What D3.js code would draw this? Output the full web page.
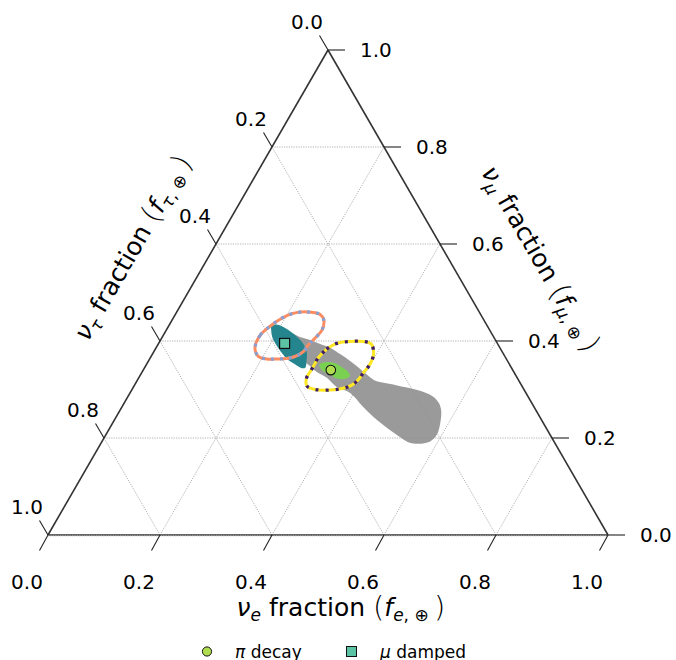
<!DOCTYPE html>
<html><head><meta charset="utf-8">
<script src="https://cdn.jsdelivr.net/npm/d3@7"></script>
<style>body{margin:0;background:#fff} svg{display:block} text{font-family:"DejaVu Sans",sans-serif;fill:#000}</style>
</head><body><div id="chart"></div>
<script>
// ---- data (ternary coordinates given as [f_e, f_mu]; f_tau = 1 - f_e - f_mu) ----
const ticks = [0, 0.2, 0.4, 0.6, 0.8, 1.0];
const tickLabels = ["0.0", "0.2", "0.4", "0.6", "0.8", "1.0"];
const gridLevels = [0.2, 0.4, 0.6, 0.8];

const allowedRegion = [
  [0.224,0.416],[0.246,0.408],[0.267,0.402],[0.289,0.394],[0.311,0.386],[0.335,0.373],
  [0.360,0.359],[0.387,0.342],[0.410,0.327],[0.426,0.318],[0.467,0.309],[0.510,0.299],
  [0.538,0.289],[0.559,0.275],[0.573,0.258],[0.585,0.231],[0.591,0.206],[0.586,0.193],
  [0.567,0.188],[0.551,0.190],[0.531,0.200],[0.503,0.216],[0.469,0.237],[0.431,0.264],
  [0.393,0.293],[0.363,0.305],[0.336,0.324],[0.312,0.336],[0.286,0.353],[0.270,0.361],
  [0.227,0.392]
];
const muDampedRegion = [
  [0.183,0.432],[0.191,0.434],[0.214,0.425],[0.240,0.409],[0.258,0.395],[0.273,0.378],
  [0.283,0.357],[0.287,0.345],[0.281,0.344],[0.265,0.352],[0.244,0.364],[0.219,0.385],
  [0.198,0.406],[0.187,0.423]
];
const piDecayRegion = [
  [0.309,0.351],[0.317,0.356],[0.332,0.355],[0.352,0.346],[0.368,0.336],[0.375,0.328],
  [0.369,0.322],[0.357,0.322],[0.339,0.330],[0.319,0.340]
];
const piDecayContour = [
  [0.300,0.366],[0.306,0.383],[0.318,0.395],[0.340,0.399],[0.364,0.399],[0.380,0.394],
  [0.394,0.375],[0.399,0.353],[0.396,0.336],[0.394,0.320],[0.388,0.309],[0.374,0.302],
  [0.354,0.299],[0.327,0.300],[0.309,0.307],[0.300,0.323],[0.300,0.338],[0.300,0.353]
];
const muDampedContour = [
  [0.177,0.385],[0.173,0.412],[0.183,0.433],[0.194,0.447],[0.209,0.457],[0.232,0.460],
  [0.258,0.455],[0.271,0.443],[0.278,0.423],[0.274,0.406],[0.269,0.392],[0.267,0.378],
  [0.257,0.368],[0.244,0.364],[0.227,0.363],[0.209,0.363],[0.192,0.368]
];
const piDecayPoint = [0.335, 0.340];
const muDampedPoint = [0.225, 0.395];
const legendLabels = [["π", " decay"], ["μ", " damped"]];

// ---- drawing ----
const W = 676, H = 660;
const svg = d3.select("#chart").append("svg").attr("width", W).attr("height", H);
const xs = d3.scaleLinear().domain([0, 1]).range([48, 608]);
const ys = d3.scaleLinear().domain([0, 1]).range([535, 50]);
const px = (fe, fm) => [xs(fe + fm / 2), ys(fm)];

const gGrid = svg.append("g");
function seg(g, a, b) {
  const p = px(a[0], a[1]), q = px(b[0], b[1]);
  return g.append("line").attr("x1", p[0]).attr("y1", p[1]).attr("x2", q[0]).attr("y2", q[1]);
}
gridLevels.forEach(t => {
  seg(gGrid, [0, t], [1 - t, t]);        // const f_mu
  seg(gGrid, [t, 0], [t, 1 - t]);        // const f_e
  seg(gGrid, [1 - t, 0], [0, 1 - t]);    // const f_tau
});
gGrid.selectAll("line").attr("stroke", "#a8a8a8").attr("stroke-width", 0.9).attr("stroke-dasharray", "1.2,1.2");

const area = d3.line().x(d => px(d[0], d[1])[0]).y(d => px(d[0], d[1])[1]).curve(d3.curveCatmullRomClosed.alpha(0.5));

svg.append("path").attr("d", area(allowedRegion)).attr("fill", "#8f8f8f").attr("fill-opacity", 0.9);
svg.append("path").attr("d", area(muDampedRegion)).attr("fill", "#25858e");
svg.append("path").attr("d", area(piDecayRegion)).attr("fill", "#7ad151");

// triangle edges
const gEdge = svg.append("g");
seg(gEdge, [0, 0], [1, 0]); seg(gEdge, [1, 0], [0, 1]); seg(gEdge, [0, 1], [0, 0]);
gEdge.selectAll("line").attr("stroke", "#333").attr("stroke-width", 1.6);
seg(gEdge, [0, 0], [1, 0]).attr("stroke", "#999").attr("stroke-width", 1.2).attr("stroke-dasharray", "1.2,1.2")
  .attr("transform", "translate(0,0.6)");

// contours
function contour(data, c1, c2, dash) {
  svg.append("path").attr("d", area(data)).attr("fill", "none").attr("stroke", c1).attr("stroke-width", 3);
  svg.append("path").attr("d", area(data)).attr("fill", "none").attr("stroke", c2).attr("stroke-width", 3.3)
    .attr("stroke-dasharray", dash);
}
contour(piDecayContour, "#fde725", "#3d1d68", "3,7");
contour(muDampedContour, "#fc8d62", "#8a9fd0", "3,6");

// markers
const cp = px(piDecayPoint[0], piDecayPoint[1]);
svg.append("circle").attr("cx", cp[0]).attr("cy", cp[1]).attr("r", 4.8).attr("fill", "#b0dc4f").attr("stroke", "#111").attr("stroke-width", 1.1);
const sp = px(muDampedPoint[0], muDampedPoint[1]);
svg.append("rect").attr("x", sp[0] - 5).attr("y", sp[1] - 5).attr("width", 10).attr("height", 10)
  .attr("fill", "#5cc4a4").attr("stroke", "#111").attr("stroke-width", 1.2);

// ticks and labels
const gT = svg.append("g");
ticks.forEach((t, i) => {
  // bottom: f_e
  let p = px(t, 0);
  gT.append("line").attr("x1", p[0]).attr("y1", p[1]).attr("x2", p[0] - 8.5).attr("y2", p[1] + 15.5);
  gT.append("text").attr("x", p[0] - 21).attr("y", p[1] + 47).attr("text-anchor", "middle")
    .attr("dominant-baseline", "central").text(tickLabels[i]);
  // right: f_mu
  p = px(1 - t, t);
  gT.append("line").attr("x1", p[0]).attr("y1", p[1]).attr("x2", p[0] + 17).attr("y2", p[1]);
  gT.append("text").attr("x", p[0] + 32).attr("y", p[1]).attr("text-anchor", "start")
    .attr("dominant-baseline", "central").text(tickLabels[i]);
  // left: f_tau
  p = px(0, 1 - t);
  gT.append("line").attr("x1", p[0]).attr("y1", p[1]).attr("x2", p[0] - 8.5).attr("y2", p[1] - 14.5);
  gT.append("text").attr("x", p[0] - 21).attr("y", p[1] - 28).attr("text-anchor", "middle")
    .attr("dominant-baseline", "central").text(tickLabels[i]);
});
gT.selectAll("line").attr("stroke", "#222").attr("stroke-width", 1.1);
gT.selectAll("text").attr("font-size", 20);

// axis titles
function title(x, y, rot, sym, sub) {
  const t = svg.append("text").attr("transform", `translate(${x},${y}) rotate(${rot})`)
    .attr("text-anchor", "middle").attr("font-size", 25);
  t.append("tspan").attr("font-style", "italic").text("ν");
  t.append("tspan").attr("font-style", "italic").attr("font-size", 17).attr("dy", 5).text(sym);
  t.append("tspan").attr("dy", -5).text("  fraction ");
  t.append("tspan").attr("font-size", 29).attr("font-weight", 200).attr("dy", 1).text("(");
  t.append("tspan").attr("font-style", "italic").attr("dy", -1).text("f");
  t.append("tspan").attr("font-style", "italic").attr("font-size", 17).attr("dy", 5).text(sub);
  t.append("tspan").attr("font-size", 17).attr("dy", 0).text(", ⊕ ");
  t.append("tspan").attr("font-size", 29).attr("font-weight", 200).attr("dy", -4).text(")");
  return t;
}
title(341, 616, 0, "e", "e");
title(140, 252, -60, "τ", "τ");
title(533, 263, 60, "μ", "μ");

// legend
const lg = svg.append("g").attr("font-size", 17);
lg.append("circle").attr("cx", 207).attr("cy", 651.5).attr("r", 4.6).attr("fill", "#b0dc4f").attr("stroke", "#111").attr("stroke-width", 1);
lg.append("rect").attr("x", 346.5).attr("y", 646.5).attr("width", 10).attr("height", 10).attr("fill", "#5cc4a4").attr("stroke", "#111").attr("stroke-width", 1);
[[235, 0], [380, 1]].forEach(([x, i]) => {
  const t = lg.append("text").attr("x", x).attr("y", 657.5);
  t.append("tspan").attr("font-style", "italic").text(legendLabels[i][0]);
  t.append("tspan").text(legendLabels[i][1]);
});
</script></body></html>
